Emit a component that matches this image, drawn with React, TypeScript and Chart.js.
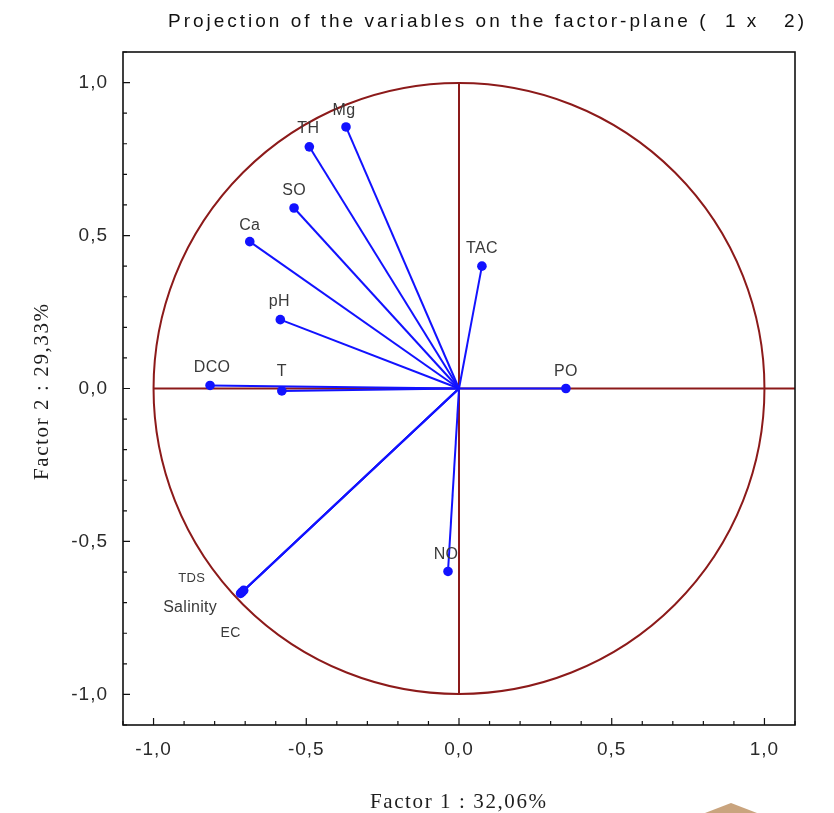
import React, { useEffect, useRef } from "react";
import { Chart, registerables } from "chart.js";

Chart.register(...registerables);

// ---- data ----
const variables = ["Mg", "TH", "SO", "Ca", "pH", "DCO", "T", "TAC", "PO", "NO", "TDS", "Salinity", "EC"];
const factor1 = [-0.37, -0.49, -0.54, -0.685, -0.585, -0.815, -0.58, 0.075, 0.35, -0.036, -0.705, -0.71, -0.715];
const factor2 = [0.855, 0.79, 0.59, 0.48, 0.225, 0.01, -0.008, 0.4, 0.0, -0.598, -0.66, -0.665, -0.67];
const origin = { x: 0, y: 0 };
const axisMin = -1.1;
const axisMax = 1.1;
const tickStep = 0.1;
const titleText = "Projection of the variables on the factor-plane (  1 x   2)";
const xTitle = "Factor 1 : 32,06%";
const yTitle = "Factor 2 : 29,33%";

// ---- label layout (pixel offsets from the point to the label centre) ----
const labelDx = [-2, -1, 0, 0, -1, 2, 0, 0, 0, -2, -52, -52, -10];
const labelDy = [-16, -18, -17, -16, -18, -18, -19, -18, -17, -17, -12, 16, 40];
const labelSize = [16, 16, 16, 16, 16, 16, 16, 16, 16, 16, 13, 16, 14];

const BLUE = "#1212ff";
const RED = "#8c1a1a";
const TEXT = "#2a2a2a";

function drawSpaced(ctx: any, text: string, x: number, y: number, target: number) {
  ctx.letterSpacing = "0px";
  const w = ctx.measureText(text).width;
  const sp = (target - w) / Math.max(1, text.length - 1);
  ctx.letterSpacing = sp + "px";
  ctx.fillText(text, x, y);
  ctx.letterSpacing = "0px";
}

const fmt = (v: any) => {
  const n = Number(v);
  const r = Math.round(n * 2);
  if (Math.abs(n * 2 - r) > 1e-6) return "";
  const s = (r / 2).toFixed(1).replace(".", ",");
  return s === "-0,0" ? "0,0" : s;
};

const pcaPlugin = {
  id: "pcaDecor",
  beforeDraw(chart: any) {
    const ctx = chart.ctx as any;
    ctx.letterSpacing = "1px";
  },
  beforeDatasetsDraw(chart: any) {
    const ctx = chart.ctx as any;
    ctx.letterSpacing = "0px";
    const xs = chart.scales.x;
    const ys = chart.scales.y;
    const a = chart.chartArea;
    ctx.save();
    // unit circle
    const cx = xs.getPixelForValue(0);
    const cy = ys.getPixelForValue(0);
    const r = xs.getPixelForValue(1) - cx;
    ctx.strokeStyle = RED;
    ctx.lineWidth = 2;
    ctx.beginPath();
    ctx.arc(cx, cy, r, 0, Math.PI * 2);
    ctx.stroke();
    // zero lines
    ctx.beginPath();
    ctx.moveTo(xs.getPixelForValue(-1), cy);
    ctx.lineTo(xs.getPixelForValue(axisMax), cy);
    ctx.moveTo(cx, ys.getPixelForValue(1));
    ctx.lineTo(cx, ys.getPixelForValue(-1));
    ctx.stroke();
    // frame
    ctx.strokeStyle = "#111";
    ctx.lineWidth = 1.6;
    ctx.strokeRect(a.left, a.top, a.right - a.left, a.bottom - a.top);
    // inner tick marks
    ctx.lineWidth = 1.2;
    ctx.beginPath();
    xs.ticks.forEach((t: any) => {
      const major = fmt(t.value) !== "";
      const px = xs.getPixelForValue(t.value);
      ctx.moveTo(px, a.bottom);
      ctx.lineTo(px, a.bottom - (major ? 7 : 4));
    });
    ys.ticks.forEach((t: any) => {
      const major = fmt(t.value) !== "";
      const py = ys.getPixelForValue(t.value);
      ctx.moveTo(a.left, py);
      ctx.lineTo(a.left + (major ? 7 : 4), py);
    });
    ctx.stroke();
    ctx.restore();
  },
  afterDatasetsDraw(chart: any) {
    const ctx = chart.ctx as any;
    const xs = chart.scales.x;
    const ys = chart.scales.y;
    ctx.save();
    ctx.fillStyle = "#3a3a3a";
    ctx.textAlign = "center";
    ctx.textBaseline = "middle";
    ctx.letterSpacing = "0.3px";
    variables.forEach((name, i) => {
      const px = xs.getPixelForValue(factor1[i]);
      const py = ys.getPixelForValue(factor2[i]);
      ctx.font = `${labelSize[i]}px "Liberation Sans", Arial, sans-serif`;
      ctx.fillText(name, px + labelDx[i], py + labelDy[i]);
    });
    ctx.restore();
  },
  afterDraw(chart: any) {
    const ctx = chart.ctx as any;
    ctx.save();
    // title
    ctx.fillStyle = "#111";
    ctx.textAlign = "left";
    ctx.textBaseline = "alphabetic";
    ctx.font = `19px "Liberation Sans", Arial, sans-serif`;
    drawSpaced(ctx, titleText, 168, 27, 636);
    // x axis title
    ctx.fillStyle = "#1e1e1e";
    ctx.font = `21px "Liberation Serif", "Times New Roman", serif`;
    drawSpaced(ctx, xTitle, 370, 808, 176);
    // y axis title
    ctx.save();
    ctx.translate(48, 480);
    ctx.rotate(-Math.PI / 2);
    drawSpaced(ctx, yTitle, 0, 0, 176);
    ctx.restore();
    // small decoration at the bottom right
    ctx.fillStyle = "#c9a47e";
    ctx.beginPath();
    ctx.moveTo(705, 813);
    ctx.lineTo(731, 803);
    ctx.lineTo(757, 813);
    ctx.closePath();
    ctx.fill();
    ctx.restore();
  },
};

export default function App() {
  const ref = useRef<HTMLCanvasElement | null>(null);
  useEffect(() => {
    const canvas = ref.current;
    if (!canvas) return;
    const datasets = variables.map((name, i) => ({
      label: name,
      data: [origin, { x: factor1[i], y: factor2[i] }],
      showLine: true,
      borderColor: BLUE,
      backgroundColor: BLUE,
      borderWidth: 2,
      pointRadius: [0, 4.8],
      pointHoverRadius: [0, 4.8],
      pointBackgroundColor: BLUE,
      pointBorderColor: BLUE,
      pointBorderWidth: 0,
    }));
    const tickFont = { family: '"Liberation Sans", Arial, sans-serif', size: 19 };
    const chart = new Chart(canvas, {
      type: "scatter",
      data: { datasets } as any,
      options: {
        animation: false,
        responsive: false,
        maintainAspectRatio: false,
        devicePixelRatio: 1,
        layout: { padding: { top: 52, right: 39, left: 0, bottom: 0 } },
        plugins: {
          legend: { display: false },
          tooltip: { enabled: false },
          title: { display: false },
        },
        scales: {
          x: {
            type: "linear",
            min: axisMin,
            max: axisMax,
            ticks: { stepSize: tickStep, callback: fmt, padding: 13, font: tickFont, color: TEXT, autoSkip: false, maxRotation: 0 },
            grid: { display: false, drawTicks: false },
            border: { display: false },
            afterFit: (s: any) => {
              s.height = 88;
            },
          },
          y: {
            type: "linear",
            min: axisMin,
            max: axisMax,
            ticks: { stepSize: tickStep, callback: fmt, padding: 15, font: tickFont, color: TEXT, autoSkip: false },
            grid: { display: false, drawTicks: false },
            border: { display: false },
            afterFit: (s: any) => {
              s.width = 123;
            },
          },
        },
      } as any,
      plugins: [pcaPlugin],
    });
    return () => chart.destroy();
  }, []);
  return (
    <div style={{ position: "fixed", left: 0, top: 0, width: 834, height: 813, background: "#fff" }}>
      <canvas ref={ref} width={834} height={813} style={{ width: 834, height: 813, display: "block" }} />
    </div>
  );
}
